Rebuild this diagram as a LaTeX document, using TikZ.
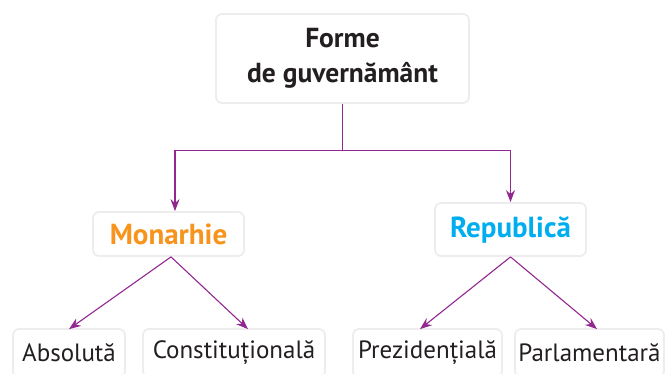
\documentclass[tikz,border=0pt]{standalone}
\usepackage{fontspec}
\setmainfont{PT Sans}
\usetikzlibrary{positioning}
\usetikzlibrary{calc}
\usetikzlibrary{arrows.meta}
\definecolor{linie}{HTML}{92278F}
\definecolor{portocaliu}{HTML}{F7941D}
\definecolor{albastru}{HTML}{00AEEF}
\definecolor{text}{HTML}{231F20}
\tikzset{
	cutie/.style={fill=white, draw=black!7, line width=1.8pt, rounded corners=6pt, inner sep=0pt, align=center, text=text},
	sageata/.style={draw=linie, line width=1.1pt, -{Stealth[length=12pt,width=9pt,inset=4pt]}},
}

\begin{document}
\begin{tikzpicture}[x=1pt,y=-1pt]
		% Fix page size
		\useasboundingbox (0,0) rectangle (669,374);
		% Draw boxes
		\node[cutie, minimum width=253pt, minimum height=89pt, font=\bfseries\fontsize{27.5}{35}\selectfont] (forme) at (342.5,58.5) {Forme\\de guvernământ};
		\node[cutie, minimum width=151pt, minimum height=44pt, font=\bfseries\fontsize{29}{34}\selectfont, text=portocaliu] (monarhie) at (168.5,234) {Monarhie};
		\node[cutie, minimum width=151pt, minimum height=53pt, font=\bfseries\fontsize{29}{34}\selectfont, text=albastru] (republica) at (510.5,229.5) {Republică};
		\node[cutie, minimum width=112pt, minimum height=48pt, font=\fontsize{25}{30}\selectfont] (absoluta) at (69,353) {Absolută};
		\node[cutie, minimum width=182pt, minimum height=48pt, font=\fontsize{25}{30}\selectfont] (constit) at (234,353) {Constituțională};
		\node[cutie, minimum width=149pt, minimum height=48pt, font=\fontsize{25}{30}\selectfont] (prezid) at (427.5,353) {Prezidențială};
		\node[cutie, minimum width=149pt, minimum height=48pt, font=\fontsize{25}{30}\selectfont] (parlam) at (589.5,353) {Parlamentară};
		% Draw connectors
		\coordinate (ramura) at ($(forme.south)+(0,47)$);
		\draw[sageata] (forme.south) -- (ramura) -| ([xshift=6.5pt]monarhie.north);
		\draw[sageata] (ramura) -| (republica.north);
		\draw[sageata] ([xshift=2.5pt]monarhie.south) -- ([yshift=-1pt]absoluta.north);
		\draw[sageata] ([xshift=2.5pt]monarhie.south) -- ([xshift=14pt,yshift=-1pt]constit.north);
		\draw[sageata] (republica.south) -- ([xshift=-7.5pt,yshift=-1pt]prezid.north);
		\draw[sageata] (republica.south) -- ([xshift=7.5pt,yshift=-1pt]parlam.north);
	\end{tikzpicture}
\end{document}
